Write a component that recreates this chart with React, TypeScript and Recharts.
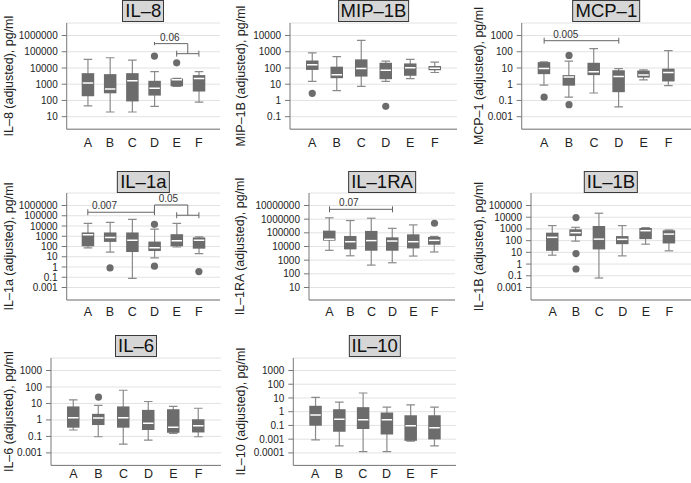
import {
  Bar,
  CartesianGrid,
  ComposedChart,
  Line,
  ReferenceDot,
  ReferenceLine,
  XAxis,
  YAxis,
} from "recharts";

const GROUPS = ["A", "B", "C", "D", "E", "F"];

// every value is the log10 position on the axis: [whisker low, q1, median, q3, whisker high]
type Box = [number, number, number, number, number];

const IL8_BOXES: Box[] = [
  [1.66, 2.26, 3.07, 3.68, 4.53],
  [1.29, 2.44, 2.71, 3.62, 4.63],
  [1.29, 1.94, 3.21, 3.68, 4.48],
  [1.64, 2.3, 2.75, 3.21, 3.78],
  [2.86, 2.87, 3.27, 3.35, 3.36],
  [1.9, 2.55, 3.35, 3.56, 3.78],
];
const IL8_OUTLIERS = [[], [], [], [4.73], [4.32], []];
const IL8_TICKS = ["1000000", "100000", "10000", "1000", "100", "10"];

const MIP1B_BOXES: Box[] = [
  [1.17, 1.88, 2.2, 2.46, 2.93],
  [0.61, 1.37, 1.58, 2.08, 2.7],
  [0.87, 1.47, 1.96, 2.53, 3.7],
  [1.17, 1.31, 1.86, 2.32, 2.42],
  [1.35, 1.52, 2.02, 2.28, 2.53],
  [1.72, 1.86, 1.98, 2.12, 2.36],
];
const MIP1B_OUTLIERS = [[0.44], [], [], [-0.36], [], []];
const MIP1B_TICKS = ["10000", "1000", "100", "10", "1", "0.1"];

const MCP1_BOXES: Box[] = [
  [-0.05, 0.62, 0.96, 1.36, 1.38],
  [-0.8, -0.09, 0.45, 0.56, 1.42],
  [-0.54, 0.56, 0.76, 1.32, 2.19],
  [-1.4, -0.49, 0.47, 0.86, 0.96],
  [0.27, 0.41, 0.56, 0.84, 0.88],
  [-0.09, 0.17, 0.72, 0.96, 2.07],
];
const MCP1_OUTLIERS = [[-0.8], [1.77, -1.26], [], [], [], []];
const MCP1_TICKS = ["1000", "100", "10", "1", "0.1", "0.001"];

const IL1A_BOXES: Box[] = [
  [1.86, 2.02, 3.14, 3.37, 4.26],
  [1.46, 2.45, 2.88, 3.37, 4.36],
  [-1.11, 1.46, 2.61, 3.37, 4.65],
  [0.9, 1.56, 1.89, 2.48, 3.7],
  [1.95, 2.02, 2.55, 3.2, 4.26],
  [1.3, 1.79, 2.61, 2.88, 2.94],
];
const IL1A_OUTLIERS = [[], [-0.09], [], [4.16, 0.08], [], [-0.45]];
const IL1A_TICKS = ["1000000", "100000", "10000", "1000", "100", "10", "1", "0.1", "0.001"];

const IL1RA_BOXES: Box[] = [
  [3.72, 4.43, 4.53, 5.16, 6.1],
  [3.32, 3.79, 4.35, 4.77, 5.9],
  [2.64, 3.69, 4.43, 5.14, 6.07],
  [2.81, 3.69, 4.4, 4.67, 5.33],
  [3.3, 3.86, 4.35, 4.89, 5.58],
  [3.6, 4.13, 4.45, 4.7, 4.74],
];
const IL1RA_OUTLIERS = [[], [], [], [], [], [5.7]];
const IL1RA_TICKS = ["10000000", "1000000", "100000", "10000", "1000", "100", "10"];

const IL1B_BOXES: Box[] = [
  [0.76, 1.13, 2.28, 2.68, 3.28],
  [1.96, 2.39, 2.68, 2.97, 3.14],
  [-1.19, 1.25, 2.13, 3.25, 4.34],
  [0.7, 1.7, 2.11, 2.39, 3.28],
  [1.7, 2.13, 2.85, 3.08, 3.11],
  [1.13, 1.76, 2.56, 2.88, 2.91],
];
const IL1B_OUTLIERS = [[], [3.97, 0.9, -0.42], [], [], [], []];
const IL1B_TICKS = ["100000", "10000", "1000", "100", "10", "1", "0.1", "0.001"];

const IL6_BOXES: Box[] = [
  [-0.61, -0.47, 0.14, 0.82, 1.22],
  [-1.02, -0.31, 0.12, 0.37, 0.88],
  [-1.47, -0.47, 0.14, 0.82, 1.8],
  [-1.22, -0.61, -0.2, 0.61, 1.12],
  [-0.82, -0.78, -0.45, 0.65, 0.82],
  [-1.02, -0.76, -0.35, 0.04, 0.71],
];
const IL6_OUTLIERS = [[], [1.39], [], [], [], []];
const IL6_TICKS = ["1000", "100", "10", "1", "0.1", "0.001"];

const IL10_BOXES: Box[] = [
  [-2.05, -1.02, -0.24, 0.43, 1.04],
  [-2.49, -1.46, -0.55, 0.18, 0.7],
  [-2.91, -1.26, -0.58, 0.33, 1.36],
  [-2.91, -1.66, -0.58, -0.06, 0.33],
  [-2.15, -2.12, -1.02, -0.26, 0.5],
  [-2.49, -2.02, -1.17, -0.26, 0.33],
];
const IL10_OUTLIERS = [[], [], [], [], [], []];
const IL10_TICKS = ["1000", "100", "10", "1", "0.1", "0.001", "0.0001"];

// significance brackets, x in group units (A = 1)
type Bracket = { from: number; to: number; y: number; caps: boolean; label?: string; labelX?: number };
type Link = { x: number; y1: number; y2: number };

const IL8_BRACKETS: Bracket[] = [
  { from: 5, to: 6, y: 4.88, caps: true },
  { from: 4, to: 5.5, y: 5.5, caps: false, label: "0.06", labelX: 4.69 },
];
const IL8_LINKS: Link[] = [
  { x: 4, y1: 5.6, y2: 5.4 },
  { x: 5.5, y1: 5.5, y2: 4.88 },
];
const MCP1_BRACKETS: Bracket[] = [{ from: 1, to: 4, y: 2.68, caps: true, label: "0.005", labelX: 1.87 }];
const IL1A_BRACKETS: Bracket[] = [
  { from: 1, to: 4, y: 5.34, caps: true, label: "0.007", labelX: 1.75 },
  { from: 5, to: 6, y: 5.05, caps: true },
  { from: 4, to: 5.5, y: 6.05, caps: false, label: "0.05", labelX: 4.63 },
];
const IL1A_LINKS: Link[] = [
  { x: 4, y1: 6.05, y2: 5.34 },
  { x: 5.5, y1: 6.05, y2: 5.05 },
];
const IL1RA_BRACKETS: Bracket[] = [{ from: 1, to: 4, y: 6.72, caps: true, label: "0.07", labelX: 1.92 }];

const BOX_FILL = "#6c6c6c";
const WHISKER = "#8a8a8a";
const AXIS = "#777";
const PAD = 12.5; // px between end ticks and plot edge
const MT = 22;
const XH = 26;

const PANELS = [
  { title: "IL–8", yLabel: "IL–8 (adjusted), pg/ml", boxes: IL8_BOXES, outliers: IL8_OUTLIERS, ticks: IL8_TICKS, topTick: 6, brackets: IL8_BRACKETS, links: IL8_LINKS, left: 0, axisX: 66.7, right: 220, labelX: 9, plotTop: 23.3, plotBottom: 129.5, titleTop: 0, xGap: 8.5 },
  { title: "MIP–1B", yLabel: "MIP–1B (adjusted), pg/ml", boxes: MIP1B_BOXES, outliers: MIP1B_OUTLIERS, ticks: MIP1B_TICKS, topTick: 4, brackets: [], links: [], left: 230, axisX: 290, right: 457, labelX: 241, plotTop: 23.3, plotBottom: 129.5, titleTop: 0, xGap: 8.5 },
  { title: "MCP–1", yLabel: "MCP–1 (adjusted), pg/ml", boxes: MCP1_BOXES, outliers: MCP1_OUTLIERS, ticks: MCP1_TICKS, topTick: 3, brackets: MCP1_BRACKETS, links: [], left: 460, axisX: 521.7, right: 691, labelX: 479, plotTop: 23.3, plotBottom: 129.5, titleTop: 0, xGap: 8.5 },
  { title: "IL–1a", yLabel: "IL–1a (adjusted), pg/ml", boxes: IL1A_BOXES, outliers: IL1A_OUTLIERS, ticks: IL1A_TICKS, topTick: 6, brackets: IL1A_BRACKETS, links: IL1A_LINKS, left: 0, axisX: 66.7, right: 220, labelX: 9, plotTop: 193, plotBottom: 300, titleTop: 171, xGap: 7 },
  { title: "IL–1RA", yLabel: "IL–1RA (adjusted), pg/ml", boxes: IL1RA_BOXES, outliers: IL1RA_OUTLIERS, ticks: IL1RA_TICKS, topTick: 7, brackets: IL1RA_BRACKETS, links: [], left: 230, axisX: 309, right: 455, labelX: 240, plotTop: 193, plotBottom: 300, titleTop: 171, xGap: 7 },
  { title: "IL–1B", yLabel: "IL–1B (adjusted), pg/ml", boxes: IL1B_BOXES, outliers: IL1B_OUTLIERS, ticks: IL1B_TICKS, topTick: 5, brackets: [], links: [], left: 460, axisX: 531, right: 691, labelX: 479, plotTop: 193, plotBottom: 300, titleTop: 171, xGap: 7 },
  { title: "IL–6", yLabel: "IL–6 (adjusted), pg/ml", boxes: IL6_BOXES, outliers: IL6_OUTLIERS, ticks: IL6_TICKS, topTick: 3, brackets: [], links: [], left: 0, axisX: 51, right: 221, labelX: 9, plotTop: 358.3, plotBottom: 465.7, titleTop: 335, xGap: 4 },
  { title: "IL–10", yLabel: "IL–10 (adjusted), pg/ml", boxes: IL10_BOXES, outliers: IL10_OUTLIERS, ticks: IL10_TICKS, topTick: 3, brackets: [], links: [], left: 230, axisX: 293.3, right: 456, labelX: 241, plotTop: 358.3, plotBottom: 465.7, titleTop: 335, xGap: 4 },
];

type PanelDef = (typeof PANELS)[number];

function BoxShape(props: any) {
  const { x, y, width, height, payload } = props;
  const { lo, q1, med, q3, hi } = payload;
  const py = (v: number) => y + (height * (hi - v)) / (hi - lo);
  const cx = x + width / 2;
  const cap = 4.3;
  return (
    <g>
      <line x1={cx} x2={cx} y1={py(hi)} y2={py(lo)} stroke={WHISKER} strokeWidth={1.2} />
      <line x1={cx - cap} x2={cx + cap} y1={py(hi)} y2={py(hi)} stroke={WHISKER} strokeWidth={1.2} />
      <line x1={cx - cap} x2={cx + cap} y1={py(lo)} y2={py(lo)} stroke={WHISKER} strokeWidth={1.2} />
      <rect x={x} y={py(q3)} width={width} height={Math.max(py(q1) - py(q3), 1)} fill={BOX_FILL} />
      <line x1={x + 1} x2={x + width - 1} y1={py(med)} y2={py(med)} stroke="#fff" strokeWidth={1.5} />
    </g>
  );
}

function bracketShape(caps: boolean) {
  return (p: any) => (
    <g>
      <line x1={p.x1} y1={p.y1} x2={p.x2} y2={p.y2} stroke="#666" strokeWidth={1} />
      {caps && <line x1={p.x1} y1={p.y1 - 3} x2={p.x1} y2={p.y1 + 3} stroke="#666" strokeWidth={1} />}
      {caps && <line x1={p.x2} y1={p.y2 - 3} x2={p.x2} y2={p.y2 + 3} stroke="#666" strokeWidth={1} />}
    </g>
  );
}

function Panel({ p }: { p: PanelDef }) {
  const rows = GROUPS.map((group, i) => {
    const [lo, q1, med, q3, hi] = p.boxes[i];
    const o: number[] = p.outliers[i] ?? [];
    return { pos: i + 1, group, lo, q1, med, q3, hi, o1: o[0] ?? null, o2: o[1] ?? null, o3: o[2] ?? null };
  });
  const plotH = p.plotBottom - p.plotTop;
  const n = p.ticks.length;
  const step = (plotH - 2 * PAD) / (n - 1);
  const tickValues = p.ticks.map((_, i) => p.topTick - i);
  const domain = [p.topTick - (n - 1) - PAD / step, p.topTick + PAD / step];
  const width = p.right - p.left;
  const height = plotH + MT + XH;

  const yLabel = (props: any) => {
    const vb = props.viewBox;
    const cy = vb.y + vb.height / 2;
    const lx = p.labelX - p.left;
    return (
      <text
        x={lx}
        y={cy}
        transform={`rotate(-90 ${lx} ${cy})`}
        textAnchor="middle"
        dominantBaseline="central"
        fontSize={12.5}
        fill="#222"
      >
        {p.yLabel}
      </text>
    );
  };

  return (
    <>
      <div
        style={{
          position: "absolute",
          left: (p.axisX + p.right) / 2,
          top: p.titleTop,
          transform: "translateX(-50%)",
          border: "1px solid #3a3a3a",
          background: "#d6d6d6",
          fontSize: 18.5,
          lineHeight: "20px",
          padding: "0 2px",
          color: "#111",
          whiteSpace: "nowrap",
          zIndex: 2,
        }}
      >
        {p.title}
      </div>
      <div style={{ position: "absolute", left: p.left, top: p.plotTop - MT }}>
        <ComposedChart width={width} height={height} data={rows} margin={{ top: MT, right: 0, bottom: 0, left: 0 }}>
          <CartesianGrid vertical={false} stroke="#e2e2e2" />
          <XAxis
            dataKey="pos"
            type="number"
            domain={[0.5, 6.5]}
            allowDataOverflow
            ticks={[1, 2, 3, 4, 5, 6]}
            interval={0}
            tickFormatter={(v: number) => GROUPS[v - 1] ?? ""}
            height={XH}
            tickLine={false}
            tickSize={0}
            tickMargin={p.xGap}
            stroke={AXIS}
            tick={{ fontSize: 12.5, fill: "#222" }}
            padding={{ left: 10, right: 10 }}
          />
          <YAxis
            type="number"
            width={p.axisX - p.left}
            domain={domain}
            allowDataOverflow
            ticks={tickValues}
            interval={0}
            tickFormatter={(v: number) => p.ticks[p.topTick - v] ?? ""}
            tickSize={5}
            tickMargin={4}
            stroke={AXIS}
            tick={{ fontSize: 10, fill: "#222" }}
            label={yLabel}
          />
          <Bar dataKey={(d: any) => [d.lo, d.hi]} barSize={12.5} shape={BoxShape} isAnimationActive={false} />
          {["o1", "o2", "o3"].map((k) => (
            <Line
              key={k}
              dataKey={k}
              stroke="none"
              dot={{ r: 3.6, fill: BOX_FILL, stroke: "none" }}
              activeDot={false}
              legendType="none"
              isAnimationActive={false}
            />
          ))}
          {p.brackets.map((b, i) => (
            <ReferenceLine
              key={`b${i}`}
              segment={[
                { x: b.from, y: b.y },
                { x: b.to, y: b.y },
              ]}
              shape={bracketShape(b.caps)}
            />
          ))}
          {p.links.map((l, i) => (
            <ReferenceLine
              key={`l${i}`}
              segment={[
                { x: l.x, y: l.y1 },
                { x: l.x, y: l.y2 },
              ]}
              stroke="#666"
            />
          ))}
          {p.brackets
            .filter((b) => b.label)
            .map((b, i) => (
              <ReferenceDot
                key={`t${i}`}
                x={b.labelX}
                y={b.y}
                r={0}
                fill="none"
                stroke="none"
                label={{ value: b.label, position: "top", offset: 3, fontSize: 10, fill: "#333" }}
              />
            ))}
        </ComposedChart>
      </div>
    </>
  );
}

export default function App() {
  return (
    <div
      style={{
        position: "absolute",
        left: 0,
        top: 0,
        width: 691,
        height: 483,
        background: "#fff",
        fontFamily: '"Liberation Sans", Arial, sans-serif',
        overflow: "hidden",
      }}
    >
      {PANELS.map((p) => (
        <Panel key={p.title} p={p} />
      ))}
    </div>
  );
}
